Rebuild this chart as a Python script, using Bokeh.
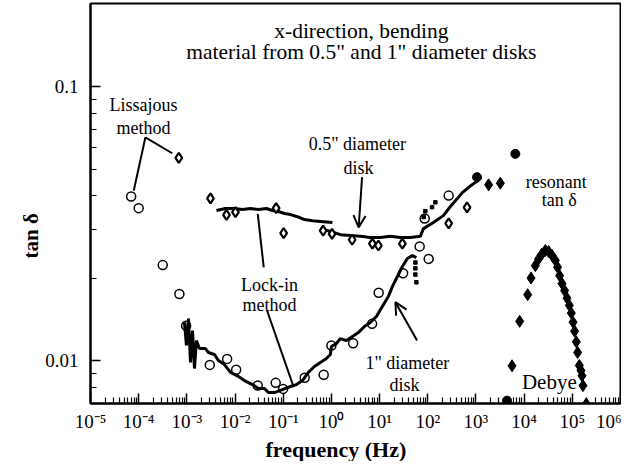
from bokeh.plotting import figure
from bokeh.models import (Range1d, FixedTicker, CustomJSTickFormatter, Title,
                          Arrow, OpenHead)
from bokeh.core.properties import value
from bokeh.embed import file_html
from bokeh.resources import INLINE

FONT = "Liberation Serif"

# ---------------- data ----------------
# 1" diameter disk, open circles (Lissajous + lock-in)
c_f = [6.98e-5, 1.0e-4, 3.16e-4, 7.0e-4, 9.66e-4, 2.99e-3, 6.85e-3, 1.054e-2,
       2.96e-2, 6.98e-2, 9.95e-2, 0.279, 0.692, 1.0, 2.82, 6.98, 9.58, 30.7,
       67.9, 86.3, 271.6, 104.4]
c_t = [0.0397, 0.0360, 0.0223, 0.0175, 0.0134, 0.00964, 0.01014, 0.00925,
       0.00811, 0.00829, 0.00788, 0.00865, 0.00887, 0.01135, 0.01157, 0.01361,
       0.01767, 0.02084, 0.0261, 0.0330, 0.0400, 0.0235]

# 0.5" diameter disk, open diamonds
d_f = [6.8e-4, 3.09e-3, 6.64e-3, 1.02e-2, 7.13e-2, 0.102, 0.673, 1.03, 2.69,
       7.09, 9.44, 29.7, 271.6, 653.0]
d_t = [0.0549, 0.0391, 0.0340, 0.0348, 0.0360, 0.0292, 0.0298, 0.0290, 0.0276,
       0.0267, 0.0263, 0.0267, 0.0317, 0.0362]

# lock-in, 1" disk (thick line)
l1_f = [8.9e-4, 9.8e-4, 1.08e-3, 1.19e-3, 1.31e-3, 1.44e-3, 1.58e-3, 1.82e-3,
        2.43e-3, 2.81e-3, 3.74e-3, 4.53e-3, 6.03e-3, 8.04e-3, 1.178e-2, 1.567e-2,
        2.30e-2, 3.05e-2, 4.07e-2, 4.93e-2, 6.56e-2, 8.75e-2, 0.111, 0.141,
        0.188, 0.250, 0.333, 0.444, 0.591, 0.787, 0.953, 1.0, 1.27, 1.54, 2.05,
        2.73, 3.63, 4.84, 6.44, 8.59, 11.4, 15.2, 18.4, 23.4, 29.7, 37.7, 47.9, 58.0]
l1_t = [0.01377, 0.01135, 0.01422, 0.00984, 0.01286, 0.00935, 0.01183, 0.01106,
        0.01106, 0.01070, 0.01052, 0.0100, 0.00967, 0.00905, 0.00875, 0.00845,
        0.00817, 0.00791, 0.00791, 0.00764, 0.00764, 0.00778, 0.00791, 0.00804,
        0.00817, 0.00845, 0.00905, 0.00951, 0.00984, 0.01017, 0.01052, 0.01125,
        0.01154, 0.01203, 0.01183, 0.01224, 0.01265, 0.01331, 0.01377, 0.01448,
        0.01574, 0.01713, 0.01862, 0.02026, 0.02204, 0.02357, 0.02416, 0.02377]
l1_dot_f = [55.3, 55.3, 55.3, 58.0]
l1_dot_t = [0.0228, 0.0217, 0.0206, 0.0193]

# lock-in, 0.5" disk (two runs)
h1_f = [4.11e-3, 6.32e-3, 9.73e-3, 1.426e-2, 2.09e-2, 3.05e-2, 4.48e-2, 5.97e-2,
        7.94e-2, 0.106, 0.141, 0.197, 0.275, 0.404, 0.591, 1.05]
h1_t = [0.0353, 0.0359, 0.0359, 0.0356, 0.0359, 0.0356, 0.0359, 0.0353, 0.0350,
        0.0344, 0.0341, 0.0335, 0.0327, 0.0324, 0.0322, 0.0319]
h2_f = [0.591, 0.953, 1.54, 2.48, 4.00, 6.44, 10.4, 16.7, 27.0, 43.6, 70.2, 81.1,
        130.6, 210.9, 294.4, 411.0, 522.0, 695.0, 972.0, 1122.0]
h2_t = [0.0303, 0.0296, 0.0288, 0.0286, 0.0284, 0.0281, 0.0281, 0.0284, 0.0281,
        0.0281, 0.0284, 0.0303, 0.0319, 0.0338, 0.0365, 0.0390, 0.0410, 0.0428,
        0.0447, 0.0454]
h2_dot_f = [82.2, 89.1, 122.7, 143.8]
h2_dot_t = [0.0334, 0.0351, 0.0363, 0.0378]

# resonant tan delta (filled)
rc_f = [1054.0, 6560.0, 4415.0]
rc_t = [0.0467, 0.0568, 0.00714]
rd_f = [1833.0, 3207.0]
rd_t = [0.0438, 0.0444]

# Debye peak (filled diamonds)
db_f = [5610, 8070, 11830, 13900, 17060, 20000, 23500, 27540, 32200, 37900,
        44400, 49500, 54600, 61100, 69200, 77600, 86700, 95300, 103500, 111700,
        121100, 128800, 139600, 151400, 158900, 166700, 195000]
db_t = [0.00957, 0.0139, 0.0174, 0.0200, 0.0222, 0.0235, 0.0245, 0.0252, 0.0250,
        0.0242, 0.0232, 0.0219, 0.0204, 0.0191, 0.0180, 0.0169, 0.0159, 0.0149,
        0.0138, 0.0128, 0.0117, 0.0107, 0.0096, 0.0092, 0.0088, 0.0081, 0.00695]

# ticks
x_ticks = [1e-5, 1e-4, 1e-3, 1e-2, 1e-1, 1e0, 1e1, 1e2, 1e3, 1e4, 1e5, 1e6]
x_tick_labels = ["10\u207b\u2075", "10\u207b\u2074", "10\u207b\u00b3", "10\u207b\u00b2",
                 "10\u207b\u00b9", "10\u2070", "10\u00b9", "10\u00b2", "10\u00b3",
                 "10\u2074", "10\u2075", "10\u2076"]
y_ticks = [0.01, 0.1]
y_tick_labels = ["0.01", "0.1"]

# annotations (data coordinates)
title_lines = ["x-direction, bending", "material from 0.5\" and 1\" diameter disks"]
title_x = [4.19, 4.19]
title_y = [0.160, 0.1334]
ann_text = ["Lissajous", "method", "0.5\" diameter", "disk", "resonant", "tan \u03b4",
            "Lock-in", "method", "1\" diameter", "disk"]
ann_x = [1.26e-4, 1.26e-4, 3.46, 3.63, 46600, 53700, 0.0518, 0.0518, 37.8, 32.7]
ann_y = [0.0853, 0.0708, 0.0619, 0.0506, 0.0447, 0.0384, 0.0189, 0.0159, 0.00976, 0.00811]

# ---------------- figure ----------------
p = figure(frame_width=530, frame_height=400, x_axis_type="log", y_axis_type="log",
           x_range=Range1d(1e-5, 1e6), y_range=Range1d(0.00697, 0.201),
           output_backend="svg", toolbar_location=None,
           min_border_left=90, min_border_right=1, min_border_top=3,
           min_border_bottom=52)
p.grid.visible = False
p.outline_line_color = "black"
p.outline_line_width = 2
p.background_fill_color = "white"
p.border_fill_color = "white"

fmt_code = """
const lt = Math.log10(tick);
for (let i = 0; i < vals.length; i++) {
  if (Math.abs(Math.log10(vals[i]) - lt) < 1e-6) { return labels[i]; }
}
return "";
"""
x_minor = [m * 10.0 ** k for k in range(-5, 6) for m in range(2, 10)]
y_minor = [0.008, 0.009] + [m * 0.01 for m in range(2, 10)]

xa = p.xaxis[0]
xa.ticker = FixedTicker(ticks=x_ticks, minor_ticks=x_minor)
xa.formatter = CustomJSTickFormatter(args=dict(vals=x_ticks, labels=x_tick_labels), code=fmt_code)
ya = p.yaxis[0]
ya.ticker = FixedTicker(ticks=y_ticks, minor_ticks=y_minor)
ya.formatter = CustomJSTickFormatter(args=dict(vals=y_ticks, labels=y_tick_labels), code=fmt_code)

for ax in (xa, ya):
    ax.axis_line_width = 2
    ax.major_tick_in = 10
    ax.major_tick_out = 0
    ax.minor_tick_in = 6
    ax.minor_tick_out = 0
    ax.major_tick_line_width = 1.5
    ax.minor_tick_line_width = 1.2
    ax.major_label_text_font = FONT
    ax.major_label_text_font_size = "19px"
    ax.major_label_text_color = "black"
xa.major_label_standoff = 7
ya.major_label_standoff = 12

# axis titles
p.add_layout(Title(text="frequency  (Hz)", align="left", offset=175, standoff=0,
                   text_font=FONT, text_font_size="22px", text_font_style="bold",
                   text_color="black"), "below")
p.add_layout(Title(text="tan \u03b4", align="left", offset=145, standoff=0,
                   text_font=FONT, text_font_size="21px", text_font_style="bold",
                   text_color="black"), "left")

# lines
p.line(l1_f, l1_t, line_width=3, line_color="black")
p.line(h1_f, h1_t, line_width=3, line_color="black")
p.line(h2_f, h2_t, line_width=3, line_color="black")
p.scatter(l1_dot_f, l1_dot_t, marker="square", size=3.5, color="black")
p.scatter(h2_dot_f, h2_dot_t, marker="square", size=3.5, color="black")

# markers
p.scatter(c_f, c_t, marker="circle", size=9, fill_color=None, line_color="black", line_width=1.5)
p.scatter(d_f, d_t, marker="diamond", size=10, fill_color="white", line_color="black", line_width=2.2)
p.scatter(rc_f, rc_t, marker="circle", size=9, color="black")
p.scatter(rd_f, rd_t, marker="diamond", size=12, color="black")
p.scatter(db_f, db_t, marker="diamond", size=12, color="black")

# pointer lines
p.segment(x0=[1.38e-4, 1.38e-4, 0.0394, 0.0463], y0=[0.0653, 0.0653, 0.0219, 0.0152],
          x1=[7.9e-5, 4.95e-4, 0.0296, 0.165], y1=[0.0417, 0.0571, 0.0343, 0.0080],
          line_width=2, line_color="black")
p.add_layout(Arrow(end=OpenHead(size=12, line_width=2), x_start=4.33, y_start=0.0467,
                   x_end=3.68, y_end=0.0306, line_width=2))
p.add_layout(Arrow(end=OpenHead(size=12, line_width=2), x_start=60.0, y_start=0.01183,
                   x_end=21.3, y_end=0.01633, line_width=2))

# texts
p.text(title_x, title_y, text=title_lines, text_font=value(FONT), text_font_size="21.5px",
       text_align="center", text_baseline="alphabetic", text_color="black")
p.text(ann_x, ann_y, text=ann_text, text_font=value(FONT), text_font_size="18px",
       text_align="center", text_baseline="alphabetic", text_color="black")
p.text([33300], [0.00838], text=["Debye"], text_font=value(FONT), text_font_size="21px",
       text_align="center", text_baseline="alphabetic", text_color="black")

open("out.html", "w").write(file_html(p, INLINE))
